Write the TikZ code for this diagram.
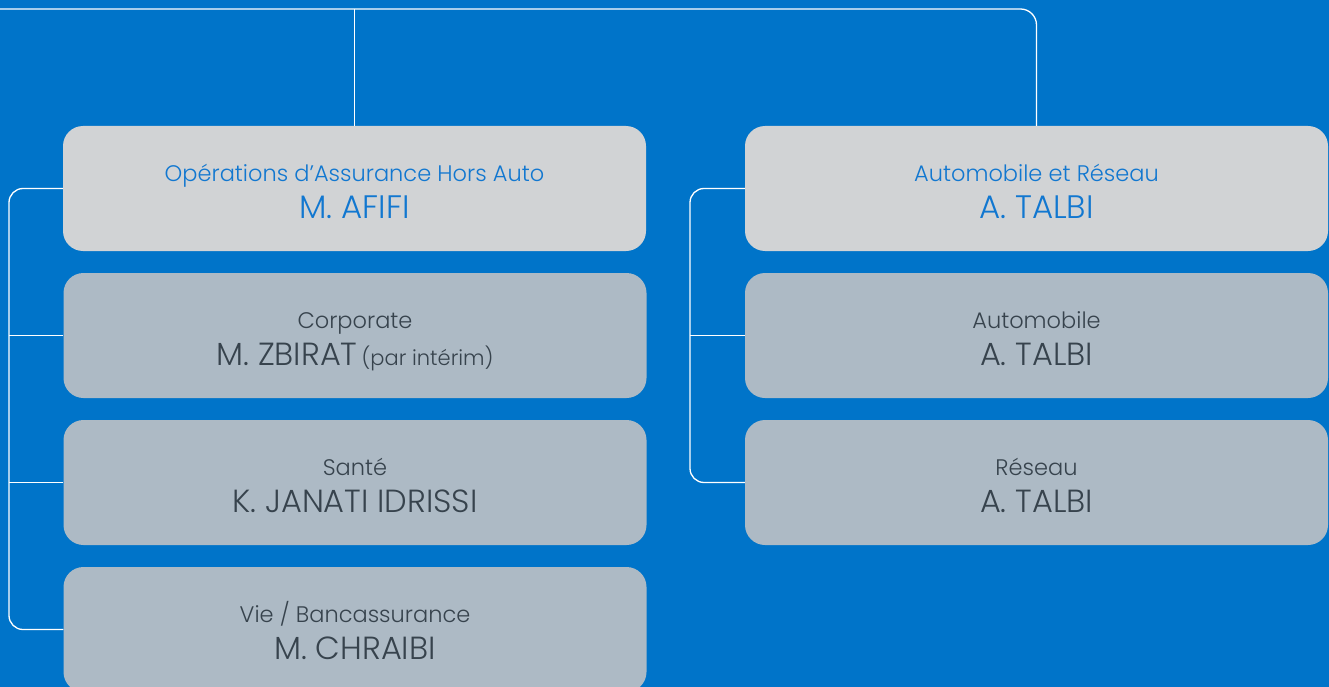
\documentclass[tikz,border=0pt]{standalone}
\usepackage{fontspec}
\setmainfont{Poppins}
\newfontfamily\lightfont{Poppins Light}
\definecolor{bgblue}{HTML}{0074C9}
\definecolor{headgray}{HTML}{D1D3D5}
\definecolor{childgray}{HTML}{ADBAC5}
\definecolor{titleblue}{HTML}{1177D0}
\definecolor{darktext}{HTML}{37434D}
\begin{document}
\begin{tikzpicture}[x=1pt,y=-1pt,
  box/.style={rectangle,rounded corners=20pt,minimum width=583pt,minimum height=125pt,inner sep=0pt,draw=none},
  headbox/.style={box,fill=headgray},
  childbox/.style={box,fill=childgray},
  conn/.style={draw=white,line width=1.3pt,rounded corners=14pt},
  htitle/.style={anchor=base,inner sep=0pt,text=titleblue,font=\lightfont\fontsize{22.5}{26}\selectfont},
  hname/.style={anchor=base,inner sep=0pt,text=titleblue,font=\lightfont\fontsize{32.5}{36}\selectfont},
  ctitle/.style={anchor=base,inner sep=0pt,text=darktext,font=\lightfont\fontsize{22.5}{26}\selectfont},
  cname/.style={anchor=base,inner sep=0pt,text=darktext,font=\lightfont\fontsize{32}{36}\selectfont}
]
\useasboundingbox (0,0) rectangle (1329,687);
\fill[bgblue] (0,0) rectangle (1329,687);

% left column
\node[headbox]  (a1) at (354.5,188.5) {};
\node[childbox] (a2) at (355,335.5) {};
\node[childbox] (a3) at (355,482.5) {};
\node[childbox] (a4) at (355,629.5) {};
% right column
\node[headbox]  (b1) at (1036.5,188.5) {};
\node[childbox] (b2) at (1036.5,335.5) {};
\node[childbox] (b3) at (1036.5,482.5) {};

% texts
\node[htitle] (a1t) at ([yshift=-56]a1.north) {Opérations d’Assurance Hors Auto};
\node[hname]  (a1n) at ([yshift=-93]a1.north) {M. AFIFI};
\node[ctitle] (a2t) at ([yshift=-56]a2.north) {Corporate};
\node[cname]  (a2n) at ([yshift=-93]a2.north) {M. ZBIRAT\hspace{4pt}{\fontsize{21}{24}\selectfont(par intérim)}};
\node[ctitle] (a3t) at ([yshift=-56]a3.north) {Santé};
\node[cname]  (a3n) at ([yshift=-93]a3.north) {K. JANATI IDRISSI};
\node[ctitle] (a4t) at ([yshift=-56]a4.north) {Vie / Bancassurance};
\node[cname]  (a4n) at ([yshift=-93]a4.north) {M. CHRAIBI};

\node[htitle] (b1t) at ([yshift=-56]b1.north) {Automobile et Réseau};
\node[hname]  (b1n) at ([yshift=-93]b1.north) {A. TALBI};
\node[ctitle] (b2t) at ([yshift=-56]b2.north) {Automobile};
\node[cname]  (b2n) at ([yshift=-93]b2.north) {A. TALBI};
\node[ctitle] (b3t) at ([yshift=-56]b3.north) {Réseau};
\node[cname]  (b3n) at ([yshift=-93]b3.north) {A. TALBI};

% connectors
\coordinate (tl) at (0,9);
\coordinate (lx) at (9,0);
\coordinate (rx) at (690,0);
\draw[conn,rounded corners=16pt] (tl) -| (b1.north);
\draw[conn] (a1.north) -- (a1.north |- tl);
\draw[conn] (a1.west) -| (lx |- a2.west) |- (a4.west);
\draw[conn] (a2.west) -- (lx |- a2.west);
\draw[conn] (a3.west) -- (lx |- a3.west);
\draw[conn] (b1.west) -| (rx |- b2.west) |- (b3.west);
\draw[conn] (b2.west) -- (rx |- b2.west);
\end{tikzpicture}
\end{document}
